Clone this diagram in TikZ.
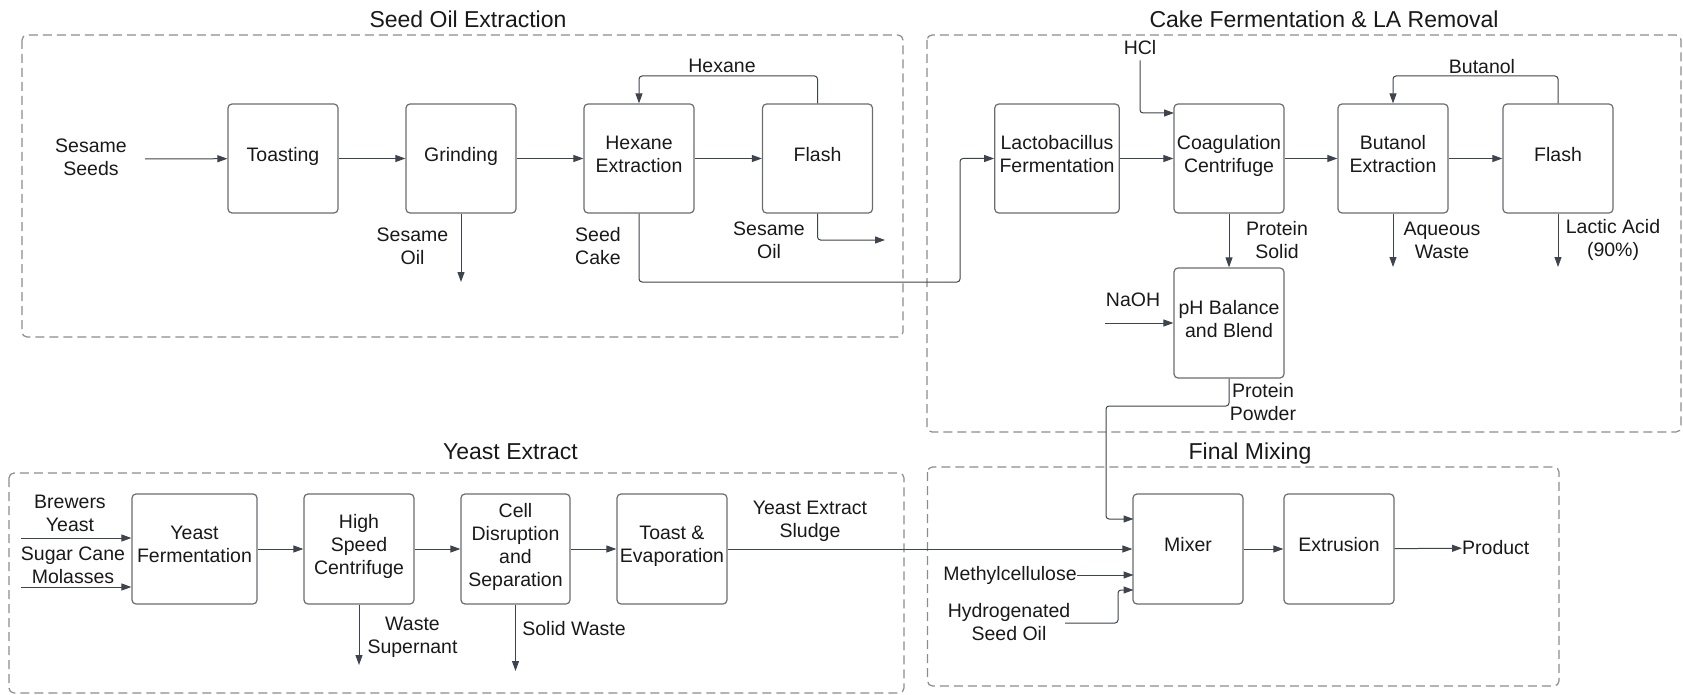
\documentclass[tikz,border=0pt]{standalone}
\usepackage{fontspec}
\setmainfont{Liberation Sans}
\usetikzlibrary{arrows.meta}

\definecolor{boxgray}{RGB}{105,108,114}
\definecolor{framegray}{RGB}{140,140,140}
\definecolor{linegray}{RGB}{62,68,77}
\definecolor{textgray}{RGB}{25,25,25}

\begin{document}
\begin{tikzpicture}[x=1pt,y=-1pt,
        unit/.style={draw=boxgray,line width=1.2pt,rounded corners=4pt,minimum width=110pt,minimum height=109pt,
            align=center,inner sep=1pt,text depth=9pt,text=textgray,font=\fontsize{19.5}{23}\selectfont},
        flow/.style={draw=linegray,line width=1pt,rounded corners=3pt,-{Triangle[length=10pt,width=7pt]}},
        group/.style={draw=framegray,line width=1.2pt,dash pattern=on 9pt off 5pt,rounded corners=5pt},
        lbl/.style={align=center,inner sep=0pt,text=textgray,font=\fontsize{19.5}{23}\selectfont},
        title/.style={inner sep=0pt,text=textgray,font=\fontsize{23}{27}\selectfont}]
        \useasboundingbox (0,0) rectangle (1683,695);

        % Rahmen
        \draw[group] (22,35) rectangle (903,337);
        \draw[group] (927,35) rectangle (1681,432);
        \draw[group] (9,473) rectangle (904,693);
        \draw[group] (927.5,467) rectangle (1559,686);
        \node[title] (t-seed) at (468,19) {Seed Oil Extraction};
        \node[title] (t-cake) at (1324,19) {Cake Fermentation \& LA Removal};
        \node[title] (t-yeast) at (510.5,452) {Yeast Extract};
        \node[title] (t-final) at (1250,454) {Final Mixing};

        % Einheiten
        \node[unit] (toast) at (283,158.5) {Toasting};
        \node[unit] (grind) at (461,158.5) {Grinding};
        \node[unit] (hexext) at (639,158.5) {Hexane\\Extraction};
        \node[unit] (flash1) at (817.5,158.5) {Flash};
        \node[unit,minimum width=124.5pt] (lacto) at (1057,158.5) {Lactobacillus\\Fermentation};
        \node[unit] (coag) at (1229,158.5) {Coagulation\\Centrifuge};
        \node[unit] (butext) at (1393,158.5) {Butanol\\Extraction};
        \node[unit] (flash2) at (1558,158.5) {Flash};
        \node[unit,minimum height=110pt] (phbal) at (1229,323) {pH Balance\\and Blend};
        \node[unit,minimum width=125pt,minimum height=110pt] (yferm) at (194.5,549) {Yeast\\Fermentation};
        \node[unit,minimum height=110pt] (hsc) at (359,549) {High\\Speed\\Centrifuge};
        \node[unit,minimum width=109pt,minimum height=110pt] (cds) at (515.5,549) {Cell\\Disruption\\and\\Separation};
        \node[unit,minimum height=110pt] (tevap) at (672,549) {Toast \&\\Evaporation};
        \node[unit,minimum height=110pt] (mixer) at (1188,549) {Mixer};
        \node[unit,minimum height=110pt] (extr) at (1339,549) {Extrusion};

        % Texte
        \node[lbl] (seeds) at (91,157.5) {Sesame\\Seeds};
        \node[lbl] (oil1) at (412.5,246.5) {Sesame\\Oil};
        \node[lbl] (hexane) at (722,66) {Hexane};
        \node[lbl,align=left] (cake) at (598,246) {Seed\\Cake};
        \node[lbl] (oil2) at (769,240) {Sesame\\Oil};
        \node[lbl] (hcl) at (1140,48) {HCl};
        \node[lbl] (butanol) at (1482,67) {Butanol};
        \node[lbl] (psolid) at (1277,240) {Protein\\Solid};
        \node[lbl] (aqwaste) at (1442,240) {Aqueous\\Waste};
        \node[lbl] (lactic) at (1613,240) {Lactic Acid\\(90\%)};
        \node[lbl] (naoh) at (1133,300) {NaOH};
        \node[lbl] (ppowder) at (1263,402.5) {Protein\\Powder};
        \node[lbl] (brewers) at (70,513) {Brewers\\Yeast};
        \node[lbl] (molasses) at (73,565) {Sugar Cane\\Molasses};
        \node[lbl] (sludge) at (810,521) {Yeast Extract\\Sludge};
        \node[lbl] (supernant) at (412.5,637.5) {Waste\\Supernant};
        \node[lbl] (swaste) at (574,629) {Solid Waste};
        \node[lbl] (methyl) at (1010,575) {Methylcellulose};
        \node[lbl] (hydro) at (1009,622) {Hydrogenated\\Seed Oil};
        \node[lbl,anchor=west] (product) at (1462,548) {Product};

        % Punkte
        \coordinate (seeds-in) at (145,159);
        \coordinate (oil1-out) at (461,282);
        \coordinate (hex-loop) at (728,76);
        \coordinate (cake-turn) at (960,282);
        \coordinate (oil2-out) at (885,240);
        \coordinate (hcl-in) at (1174,113);
        \coordinate (but-loop) at (1480,76);
        \coordinate (aq-out) at (1393,267);
        \coordinate (la-out) at (1558,267);
        \coordinate (naoh-in) at (1105,323);
        \coordinate (pp-turn) at (1106,406);
        \coordinate (mix-in1) at (1133.5,519);
        \coordinate (mix-in3) at (1133.5,575);
        \coordinate (mix-in4) at (1133.5,590);
        \coordinate (hso-start) at (1065,623);
        \coordinate (hso-bend) at (1118,590);
        \coordinate (by-in) at (21,538);
        \coordinate (mol-in) at (21,587);
        \coordinate (ws-out) at (359,665);
        \coordinate (sw-out) at (515.5,671);

        % Linien
        \draw[flow] (seeds-in) -- (toast);
        \draw[flow] (toast) -- (grind);
        \draw[flow] (grind) -- (hexext);
        \draw[flow] (hexext) -- (flash1);
        \draw[flow] (grind.south) -- (oil1-out);
        \draw[flow] (flash1.north) |- (hex-loop) -| (hexext.north);
        \draw[flow] (flash1.south) |- (oil2-out);
        \draw[flow] (hexext.south) |- (cake-turn) |- (lacto.west);
        \draw[flow] (lacto) -- (coag);
        \draw[flow] (coag) -- (butext);
        \draw[flow] (butext) -- (flash2);
        \draw[flow] ([yshift=-5pt]hcl.south) |- (hcl-in);
        \draw[flow] (flash2.north) |- (but-loop) -| (butext.north);
        \draw[flow] (coag) -- (phbal);
        \draw[flow] (butext.south) -- (aq-out);
        \draw[flow] (flash2.south) -- (la-out);
        \draw[flow] (naoh-in) -- (phbal.west);
        \draw[flow] (phbal.south) |- (pp-turn) |- (mix-in1);
        \draw[flow] (by-in) -- (by-in -| yferm.west);
        \draw[flow] (mol-in) -- (mol-in -| yferm.west);
        \draw[flow] (yferm) -- (hsc);
        \draw[flow] (hsc) -- (cds);
        \draw[flow] (cds) -- (tevap);
        \draw[flow] (hsc.south) -- (ws-out);
        \draw[flow] (cds.south) -- (sw-out);
        \draw[flow] (tevap) -- (mixer);
        \draw[flow] (methyl.east) -- (mix-in3);
        \draw[flow] (hso-start) -| (hso-bend) -- (mix-in4);
        \draw[flow] (mixer) -- (extr);
        \draw[flow] (extr) -- (product);
    \end{tikzpicture}
\end{document}
